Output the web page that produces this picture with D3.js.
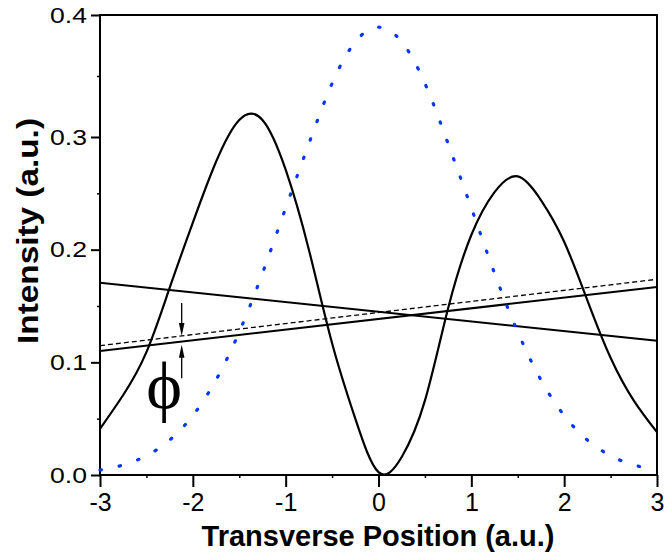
<!DOCTYPE html>
<html>
<head>
<meta charset="utf-8">
<script src="https://cdn.jsdelivr.net/npm/d3@7"></script>
<style>
  body { margin: 0; background: #fff; }
  svg { display: block; }
</style>
</head>
<body>
<svg width="665" height="558"></svg>
<script>
const positions = [-3, -2.75, -2.5, -2.25, -2, -1.75, -1.5, -1.25, -1, -0.75, -0.5, -0.25,
    0, 0.25, 0.5, 0.75, 1, 1.25, 1.5, 1.75, 2, 2.25, 2.5, 2.75, 3];
// solid black double-peaked profile
const blackProfile = [0.041, 0.071, 0.109, 0.166, 0.224, 0.278, 0.314, 0.314, 0.271, 0.200, 0.117, 0.050,
    0.0025, 0.016, 0.066, 0.148, 0.213, 0.251, 0.265, 0.244, 0.207, 0.155, 0.104, 0.066, 0.038];
// blue dotted single-peaked profile
const blueProfile = [0.0043, 0.0089, 0.0171, 0.031, 0.0528, 0.0844, 0.127, 0.179, 0.237, 0.294, 0.344, 0.378,
    0.390, 0.378, 0.344, 0.294, 0.237, 0.179, 0.127, 0.0844, 0.0528, 0.031, 0.0171, 0.0089, 0.0043];
// straight lines, values at x = -3 and x = 3
const lineEnds = [-3, 3];
const fallingLine = [0.1707, 0.1192];
const risingLine = [0.110, 0.1669];
const dashedLine = [0.1148, 0.1737];

const xTicks = [-3, -2, -1, 0, 1, 2, 3];
const xMinorTicks = [-2.5, -1.5, -0.5, 0.5, 1.5, 2.5];
const yTicks = [0, 0.1, 0.2, 0.3, 0.4];
const yMinorTicks = [0.05, 0.15, 0.25, 0.35];

function main() {
    let svg = d3.select('svg'),
        margin = { top: 15, bottom: 83, left: 100, right: 8 },
        width = svg.attr('width') - margin.left - margin.right,
        height = svg.attr('height') - margin.top - margin.bottom;

    let xScale = d3.scaleLinear()
            .domain([-3, 3])
            .range([margin.left, margin.left + width]),
        // the original axis is slightly uneven between 0.3 and 0.4
        yScale = d3.scaleLinear()
            .domain([0, 0.3, 0.4])
            .range([margin.top + height, 137, margin.top]);

    svg.append('clipPath').attr('id', 'plot-clip')
        .append('rect')
        .attr('x', margin.left - 3).attr('y', margin.top)
        .attr('width', width + 6).attr('height', height);

    let plot = svg.append('g').attr('clip-path', 'url(#plot-clip)');

    let curve = d3.line()
        .x((d) => xScale(d[0]))
        .y((d) => yScale(d[1]))
        .curve(d3.curveNatural);

    let straight = d3.line()
        .x((d) => xScale(d[0]))
        .y((d) => yScale(d[1]));

    //Straight lines
    plot.append('path')
        .datum(d3.zip(lineEnds, fallingLine))
        .attr('d', straight)
        .attr('fill', 'none')
        .attr('stroke', '#000')
        .attr('stroke-width', 2);

    plot.append('path')
        .datum(d3.zip(lineEnds, risingLine))
        .attr('d', straight)
        .attr('fill', 'none')
        .attr('stroke', '#000')
        .attr('stroke-width', 2);

    plot.append('path')
        .datum(d3.zip(lineEnds, dashedLine))
        .attr('d', straight)
        .attr('fill', 'none')
        .attr('stroke', '#000')
        .attr('stroke-width', 1.3)
        .attr('stroke-dasharray', '5 3');

    plot.append('path')
        .datum(d3.zip(positions, blackProfile))
        .attr('d', curve)
        .attr('fill', 'none')
        .attr('stroke', '#000')
        .attr('stroke-width', 2.2);

    //Phase arrows
    let lerp = (ends, x) => ends[0] + (ends[1] - ends[0]) * (x - lineEnds[0]) / (lineEnds[1] - lineEnds[0]);
    let ax = -2.12;
    let downTip = yScale(lerp(dashedLine, ax)),
        upTip = yScale(lerp(risingLine, ax)) + 3,
        px = xScale(ax);

    svg.append('line')
        .attr('x1', px).attr('x2', px)
        .attr('y1', yScale(0.1527)).attr('y2', downTip - 10)
        .attr('stroke', '#000').attr('stroke-width', 1.3);
    svg.append('path')
        .attr('d', 'M' + (px - 2.8) + ',' + (downTip - 13) + 'L' + (px + 2.8) + ',' + (downTip - 13) + 'L' + px + ',' + downTip + 'Z')
        .attr('fill', '#000');

    svg.append('line')
        .attr('x1', px).attr('x2', px)
        .attr('y1', yScale(0.0858)).attr('y2', upTip + 10)
        .attr('stroke', '#000').attr('stroke-width', 1.3);
    svg.append('path')
        .attr('d', 'M' + (px - 2.8) + ',' + (upTip + 13) + 'L' + (px + 2.8) + ',' + (upTip + 13) + 'L' + px + ',' + upTip + 'Z')
        .attr('fill', '#000');

    svg.append('text')
        .attr('x', xScale(-2.31))
        .attr('y', yScale(0.0586))
        .attr('text-anchor', 'middle')
        .style('font-family', '"Liberation Serif", "Times New Roman", serif')
        .style('font-size', '68px')
        .text('\u03D5');

    //X Axis
    let xAxis = svg.append('g')
        .attr('transform', 'translate(0,' + (margin.top + height) + ')')
        .call(d3.axisBottom(xScale).tickValues(xTicks).tickSize(12).tickSizeOuter(0).tickPadding(6)
            .tickFormat(d3.format('d')));
    xAxis.select('.domain').remove();
    xAxis.selectAll('line').attr('stroke-width', 2);
    xAxis.selectAll('text')
        .style('font-family', '"Liberation Sans", Arial, sans-serif')
        .style('font-size', '25px')
        .text((d) => d < 0 ? '-' + Math.abs(d) : d);

    let xMinor = svg.append('g')
        .attr('transform', 'translate(0,' + (margin.top + height) + ')')
        .call(d3.axisBottom(xScale).tickValues(xMinorTicks).tickSize(3).tickSizeOuter(0).tickFormat(''));
    xMinor.select('.domain').remove();
    xMinor.selectAll('line').attr('stroke-width', 1.5);

    //Y Axis
    let yAxis = svg.append('g')
        .attr('transform', 'translate(' + margin.left + ',0)')
        .call(d3.axisLeft(yScale).tickValues(yTicks).tickSize(9).tickSizeOuter(0).tickPadding(4)
            .tickFormat(d3.format('.1f')));
    yAxis.select('.domain').remove();
    yAxis.selectAll('line').attr('stroke-width', 2);
    yAxis.selectAll('text')
        .style('font-family', '"Liberation Sans", Arial, sans-serif')
        .style('font-size', '22px')
        .attr('textLength', 37)
        .attr('lengthAdjust', 'spacingAndGlyphs');

    let yMinor = svg.append('g')
        .attr('transform', 'translate(' + margin.left + ',0)')
        .call(d3.axisLeft(yScale).tickValues(yMinorTicks).tickSize(3).tickSizeOuter(0).tickFormat(''));
    yMinor.select('.domain').remove();
    yMinor.selectAll('line').attr('stroke-width', 1.5);

    //Frame
    svg.append('rect')
        .attr('x', margin.left).attr('y', margin.top)
        .attr('width', width).attr('height', height)
        .attr('fill', 'none')
        .attr('stroke', '#000')
        .attr('stroke-width', 2);

    //Blue dotted profile, drawn over the frame like the original
    let blue = svg.append('path')
        .datum(d3.zip(positions, blueProfile))
        .attr('d', curve)
        .attr('fill', 'none')
        .attr('stroke', '#0036ff')
        .attr('stroke-width', 3.2)
        .attr('stroke-linecap', 'round');
    // fit a whole number of dots so both ends carry one
    let len = blue.node().getTotalLength(),
        n = Math.round(len / 19.6),
        dot = 1.4;
    blue.attr('stroke-dasharray', dot + ' ' + (len / n - dot));

    //Axis titles
    svg.append('text')
        .attr('x', 378)
        .attr('y', 546)
        .attr('text-anchor', 'middle')
        .style('font-family', '"Liberation Sans", Arial, sans-serif')
        .style('font-weight', 'bold')
        .style('font-size', '29px')
        .text('Transverse Position (a.u.)');

    svg.append('text')
        .attr('transform', 'translate(38,231) rotate(-90)')
        .attr('text-anchor', 'middle')
        .attr('textLength', 226)
        .attr('lengthAdjust', 'spacingAndGlyphs')
        .style('font-family', '"Liberation Sans", Arial, sans-serif')
        .style('font-weight', 'bold')
        .style('font-size', '30px')
        .text('Intensity (a.u.)');
}

main();
</script>
</body>
</html>
